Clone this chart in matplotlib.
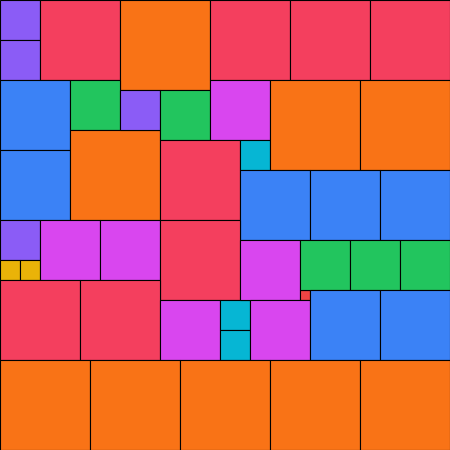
import matplotlib
matplotlib.use("Agg")
import matplotlib.pyplot as plt
from matplotlib.patches import Rectangle

# square packing: left/top corner and side of each square
sq_x = [0, 0, 40, 120, 210, 290, 370,
        0, 0, 70, 70, 120, 160, 210, 160, 240, 270, 360,
        240, 310, 380,
        0, 0, 20, 40, 100, 160,
        0, 80, 160, 220, 220, 240, 300, 250,
        300, 350, 400, 310, 380,
        0, 90, 180, 270, 360]
sq_y = [0, 40, 0, 0, 0, 0, 0,
        80, 150, 80, 130, 90, 90, 80, 140, 140, 80, 80,
        170, 170, 170,
        220, 260, 260, 220, 220, 220,
        280, 280, 300, 300, 330, 240, 290, 300,
        240, 240, 240, 290, 290,
        360, 360, 360, 360, 360]
sq_side = [40, 40, 80, 90, 80, 80, 80,
           70, 70, 50, 90, 40, 50, 60, 80, 30, 90, 90,
           70, 70, 70,
           40, 20, 20, 60, 60, 80,
           80, 80, 60, 30, 30, 60, 10, 60,
           50, 50, 50, 70, 70,
           90, 90, 90, 90, 90]

# colour by side length
side_colors = {90: "#f97316", 80: "#f43f5e", 70: "#3b82f6", 60: "#d946ef",
               50: "#22c55e", 40: "#8b5cf6", 30: "#06b6d4", 20: "#eab308",
               10: "#ef4444"}

fig = plt.figure(figsize=(4.5, 4.5), dpi=100)
ax = fig.add_axes([0, 0, 1, 1])
for x, y, s in zip(sq_x, sq_y, sq_side):
    ax.add_patch(Rectangle((x, y), s, s, facecolor=side_colors[s],
                           edgecolor="black", linewidth=0.8))
ax.set_xlim(0, 450)
ax.set_ylim(450, 0)
ax.axis("off")
fig.savefig("out.png", dpi=100)
